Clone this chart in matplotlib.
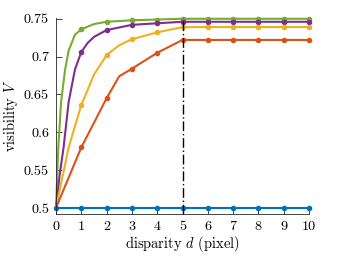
import matplotlib
matplotlib.use('Agg')
import matplotlib.pyplot as plt
import numpy as np

plt.rcParams['font.family'] = ['cmr10', 'DejaVu Serif']
plt.rcParams['mathtext.fontset'] = 'cm'
plt.rcParams['axes.unicode_minus'] = False

# line points (markers sit on the integer disparities)
d_blue = [0, 1, 2, 3, 4, 5, 6, 7, 8, 9, 10]
v_blue = [0.5] * 11

d_orange = [0, 1, 2, 2.5, 3, 4, 5, 6, 7, 8, 9, 10]
v_orange = [0.5, 0.580, 0.645, 0.674, 0.684, 0.705, 0.722, 0.722, 0.722, 0.722, 0.722, 0.722]

d_yellow = [0, 0.5, 1, 1.5, 2, 2.5, 3, 4, 5, 6, 7, 8, 9, 10]
v_yellow = [0.5, 0.580, 0.636, 0.676, 0.702, 0.715, 0.723, 0.732, 0.739, 0.739, 0.739, 0.739, 0.739, 0.739]

d_purple = [0, 0.15, 0.3, 0.5, 0.75, 1, 1.25, 1.5, 2, 3, 4, 5, 6, 7, 8, 9, 10]
v_purple = [0.5, 0.545, 0.580, 0.640, 0.683, 0.706, 0.718, 0.726, 0.735, 0.742, 0.744, 0.746, 0.746, 0.746, 0.746, 0.746, 0.746]

d_green = [0, 0.09, 0.2, 0.36, 0.5, 0.75, 1, 1.5, 2, 3, 4, 5, 6, 7, 8, 9, 10]
v_green = [0.5, 0.579, 0.640, 0.683, 0.708, 0.729, 0.736, 0.743, 0.746, 0.748, 0.749, 0.750, 0.750, 0.750, 0.750, 0.750, 0.750]

series = [
    (d_green, v_green, '#77AC30'),
    (d_purple, v_purple, '#7E2F8E'),
    (d_yellow, v_yellow, '#EDB120'),
    (d_orange, v_orange, '#D95319'),
    (d_blue, v_blue, '#0072BD'),
]

fig = plt.figure(figsize=(3.42, 2.57), dpi=100)
ax = fig.add_axes([56/342, 1-214/257, 253/342, 196/257])

for d, v, c in series:
    marks = [i for i, x in enumerate(d) if float(x).is_integer() and x > 0]
    if c == '#0072BD':
        marks = list(range(len(d)))
    ax.plot(d, v, color=c, lw=1.5, marker='o', ms=3, markevery=marks, clip_on=False)

ax.plot([5, 5], [0.492, 0.751], color='k', lw=1.0, ls=(0, (7, 2, 1, 2)), clip_on=False)

ax.set_xlim(0, 10)
ax.set_ylim(0.492, 0.751)
ax.set_xticks(range(11))
ax.set_yticks([0.5, 0.55, 0.6, 0.65, 0.7, 0.75])
ax.set_yticklabels(['0.5', '0.55', '0.6', '0.65', '0.7', '0.75'])
ax.spines['top'].set_visible(False)
ax.spines['right'].set_visible(False)
for s in ['left', 'bottom']:
    ax.spines[s].set_color('#262626')
    ax.spines[s].set_linewidth(0.6)
ax.tick_params(direction='in', length=4, width=0.6, color='#262626', labelsize=10.2, pad=5)
ax.set_xlabel('disparity $d$ (pixel)', fontsize=10.4, labelpad=1)
ax.set_ylabel('visibility $V$', fontsize=10.4, labelpad=3)

fig.savefig('out.png', dpi=100)
